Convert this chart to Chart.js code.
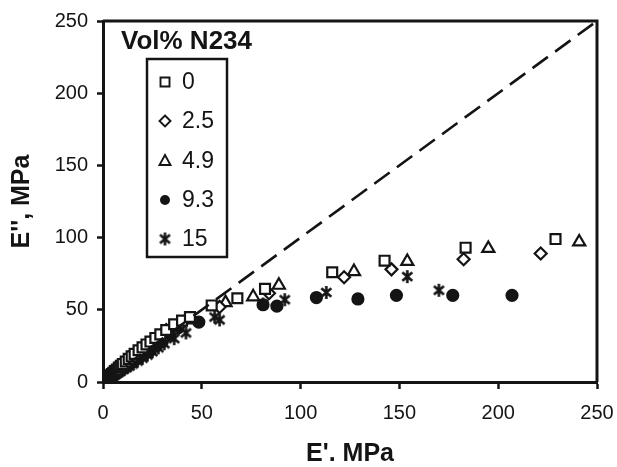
<!DOCTYPE html>
<html>
<head>
<meta charset="utf-8">
<script src="https://cdn.jsdelivr.net/npm/chart.js@4.4.0/dist/chart.umd.min.js"></script>
<style>
  html, body { margin: 0; padding: 0; background: #fff; }
  #wrap { width: 617px; height: 467px; position: relative; }
</style>
</head>
<body>
<div id="wrap"><canvas id="modChart" width="617" height="467"></canvas></div>
<script>
// tick labels / legend
var tickVals = [0, 50, 100, 150, 200, 250];
var volLabels = ['0', '2.5', '4.9', '9.3', '15'];
var legendTitle = 'Vol% N234';

// E' (x) and E'' (y) in MPa for each N234 loading
var x0 = [0.3, 0.7, 1, 1.5, 2, 2.5, 3, 3.7, 4.5, 5.2, 6, 7, 8, 9, 10, 11.5, 13, 14.5, 16, 18, 20, 22, 24, 26.5, 29, 32, 36, 40, 44, 55, 68, 82, 116, 142.5, 183.5, 229];
var y0 = [0.4, 0.9, 1.3, 1.9, 2.5, 3.1, 3.8, 4.6, 5.5, 6.4, 7.5, 8.7, 10, 11.2, 12.5, 14.2, 16, 17.8, 19.5, 22, 24, 26, 28, 30.5, 33, 36, 40, 42.5, 45, 53, 58, 64.5, 76, 84, 93, 99];

var x25 = [0.3, 0.7, 1, 1.5, 2, 2.5, 3, 3.7, 4.5, 5.2, 6, 7, 8, 9, 10, 11.5, 13, 14.5, 16, 18, 20, 22.5, 25, 28, 32, 36, 40, 59, 84, 122, 146, 182.5, 221.5];
var y25 = [0.3, 0.8, 1.1, 1.6, 2.2, 2.8, 3.4, 4.2, 5, 5.9, 6.8, 7.9, 9, 10.2, 11.5, 13, 14.5, 16.2, 18, 20, 22, 24.5, 27, 31, 36, 38.5, 41, 52, 61.5, 72.5, 78, 85, 89];

var x49 = [0.3, 0.7, 1, 1.5, 2, 2.5, 3, 3.7, 4.5, 5.2, 6, 7, 8, 9.5, 11, 12.5, 14, 16, 18, 20.5, 23, 26.5, 30, 35, 42, 62, 76, 89, 127, 154, 195, 241];
var y49 = [0.3, 0.7, 1, 1.6, 2.1, 2.6, 3.2, 4, 4.8, 5.6, 6.5, 7.6, 8.8, 10.4, 12, 13.5, 15, 17.2, 19.5, 22, 25, 28, 31, 36, 43, 55, 59, 67, 76.5, 83.5, 92.5, 97];

var x93 = [0.2, 0.5, 0.8, 1.2, 1.5, 2, 2.5, 3, 3.5, 4.2, 5, 6, 7, 8, 9, 10.5, 12, 13.5, 15, 17, 19, 21.5, 24, 27, 30, 34, 38, 48.5, 81, 88, 108, 129, 148.5, 177, 207];
var y93 = [0.2, 0.5, 0.8, 1.2, 1.5, 1.9, 2.4, 2.9, 3.4, 4.1, 4.8, 5.8, 6.8, 7.7, 8.5, 9.8, 11, 12.5, 14, 16, 18, 20, 22, 25, 28, 33, 37.5, 41.5, 53.5, 52.5, 58.5, 57.5, 60, 60, 60];

var x15 = [0.2, 0.5, 0.8, 1.2, 1.5, 2, 2.5, 3, 3.5, 4.2, 5, 6, 7, 8, 9, 10.5, 12, 13.5, 15, 17.5, 20, 22.5, 25, 28, 31, 36, 42, 56.5, 59, 81, 92, 113, 154, 170];
var y15 = [0.1, 0.4, 0.6, 0.9, 1.2, 1.6, 2, 2.4, 2.9, 3.4, 4, 4.9, 5.8, 6.6, 7.5, 8.7, 10, 11.2, 12.5, 14.5, 16.5, 18.7, 21, 23.7, 26.5, 30, 34, 45, 43, 54, 57, 62, 73, 63.5];

// y = x reference line
var diagX = [0, 250];
var diagY = [0, 250];

function pairs(xs, ys) {
    return xs.map(function(v, i) { return { x: v, y: ys[i] }; });
}

var ink = '#141414';
var fontFam = '"Liberation Sans", Arial, Helvetica, sans-serif';

// six-armed asterisk marker
function makeStar(size) {
    var c = document.createElement('canvas');
    c.width = size; c.height = size;
    var g = c.getContext('2d');
    var m = size / 2, r = size / 2 - 1;
    g.strokeStyle = ink;
    g.lineWidth = 2.6;
    g.beginPath();
    [90, 40, 140].forEach(function(a) {
        var t = a * Math.PI / 180;
        g.moveTo(m - r * Math.cos(t), m - r * Math.sin(t));
        g.lineTo(m + r * Math.cos(t), m + r * Math.sin(t));
    });
    g.stroke();
    return c;
}
var starImg = makeStar(15);

var markers = [
    { style: 'rect', radius: 7, fill: '#fff' },
    { style: 'rectRot', radius: 6, fill: '#fff' },
    { style: 'triangle', radius: 7, fill: '#fff' },
    { style: 'circle', radius: 5.5, fill: ink },
    { style: starImg, radius: 7, fill: ink }
];

function scatterSet(label, xs, ys, mk) {
    return {
        label: label,
        data: pairs(xs, ys),
        pointStyle: mk.style,
        pointRadius: mk.radius,
        pointBackgroundColor: mk.fill,
        pointBorderColor: ink,
        pointBorderWidth: 2.2,
        showLine: false
    };
}

// legend box drawn inside the plot
var legendBox = {
    id: 'legendBox',
    afterDraw: function(chart) {
        var ctx = chart.ctx;
        ctx.save();
        ctx.fillStyle = ink;
        ctx.font = 'bold 26px ' + fontFam;
        ctx.textBaseline = 'middle';
        ctx.textAlign = 'left';
        ctx.fillText(legendTitle, 121, 42);

        ctx.lineWidth = 2.5;
        ctx.strokeStyle = ink;
        ctx.strokeRect(147, 59, 80, 198);

        ctx.font = '23px ' + fontFam;
        var ys = [82, 121, 161, 200, 239];
        volLabels.forEach(function(lab, i) {
            var y = ys[i], x = 165;
            var mk = markers[i];
            ctx.lineWidth = 1.9;
            ctx.beginPath();
            if (mk.style === 'rect') {
                ctx.rect(x - 4.5, y - 4.5, 9, 9);
                ctx.fillStyle = '#fff'; ctx.fill(); ctx.stroke();
            } else if (mk.style === 'rectRot') {
                ctx.moveTo(x, y - 5.5); ctx.lineTo(x + 5.5, y); ctx.lineTo(x, y + 5.5); ctx.lineTo(x - 5.5, y); ctx.closePath();
                ctx.fillStyle = '#fff'; ctx.fill(); ctx.stroke();
            } else if (mk.style === 'triangle') {
                ctx.moveTo(x, y - 6); ctx.lineTo(x + 5.5, y + 4); ctx.lineTo(x - 5.5, y + 4); ctx.closePath();
                ctx.fillStyle = '#fff'; ctx.fill(); ctx.stroke();
            } else if (mk.style === 'circle') {
                ctx.arc(x, y, 5, 0, Math.PI * 2);
                ctx.fillStyle = ink; ctx.fill();
            } else {
                ctx.drawImage(starImg, x - 7.5, y - 7.5);
            }
            ctx.fillStyle = ink;
            ctx.fillText(lab, 182, y + 1);
        });
        ctx.restore();
    }
};

// closes the frame on top and right
var frame = {
    id: 'frame',
    afterDraw: function(chart) {
        var a = chart.chartArea, ctx = chart.ctx;
        ctx.save();
        ctx.strokeStyle = ink;
        ctx.lineWidth = 3;
        ctx.beginPath();
        ctx.moveTo(a.left, a.top);
        ctx.lineTo(a.right, a.top);
        ctx.lineTo(a.right, a.bottom);
        ctx.stroke();
        ctx.restore();
    }
};

var ctx = document.getElementById('modChart').getContext('2d');
var modChart = new Chart(ctx, {
    type: 'scatter',
    data: {
        datasets: [
            {
                label: 'E\'\' = E\'',
                data: pairs(diagX, diagY),
                showLine: true,
                pointRadius: 0,
                borderColor: ink,
                borderWidth: 2.6,
                borderDash: [19, 9],
                fill: false
            },
            scatterSet(volLabels[0], x0, y0, markers[0]),
            scatterSet(volLabels[1], x25, y25, markers[1]),
            scatterSet(volLabels[2], x49, y49, markers[2]),
            scatterSet(volLabels[3], x93, y93, markers[3]),
            scatterSet(volLabels[4], x15, y15, markers[4])
        ]
    },
    options: {
        responsive: false,
        animation: false,
        layout: { padding: { top: 19, right: 20, left: 0, bottom: 0 } },
        plugins: {
            legend: { display: false },
            tooltip: { enabled: false }
        },
        scales: {
            x: {
                type: 'linear',
                min: 0,
                max: 250,
                afterBuildTicks: function(s) { s.ticks = tickVals.map(function(v) { return { value: v }; }); },
                afterFit: function(s) { s.height = 85; s.paddingRight = 0; s.paddingLeft = 0; },
                grid: { drawOnChartArea: false, drawTicks: true, tickLength: 7, tickWidth: 2.5, tickColor: ink },
                border: { display: true, color: ink, width: 3 },
                ticks: { color: ink, padding: 12, font: { family: fontFam, size: 20 }, maxRotation: 0 },
                title: {
                    display: true,
                    text: 'E\'. MPa',
                    color: ink,
                    font: { family: fontFam, size: 25, weight: 'bold', lineHeight: 1 },
                    padding: { top: 0, bottom: 0 }
                }
            },
            y: {
                type: 'linear',
                min: 0,
                max: 250,
                afterBuildTicks: function(s) { s.ticks = tickVals.map(function(v) { return { value: v }; }); },
                afterFit: function(s) { s.width = 103; },
                grid: { drawOnChartArea: false, drawTicks: true, tickLength: 6, tickWidth: 2.5, tickColor: ink },
                border: { display: true, color: ink, width: 3 },
                ticks: { color: ink, padding: 9, font: { family: fontFam, size: 20 } },
                title: {
                    display: true,
                    text: 'E\'\', MPa',
                    color: ink,
                    font: { family: fontFam, size: 25, weight: 'bold', lineHeight: 1 },
                    padding: { top: 10, bottom: 0 }
                }
            }
        }
    },
    plugins: [legendBox, frame]
});
</script>
</body>
</html>
